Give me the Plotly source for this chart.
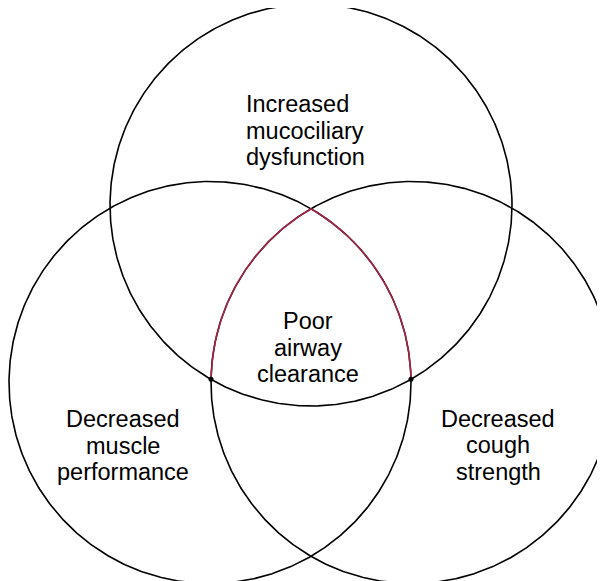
import numpy as np
import plotly.graph_objects as go

# Circle geometry (pixel space of the picture, y grows downward)
circle_names = ["top", "left", "right"]
circle_cx = [311.0, 210.0, 412.0]
circle_cy = [205.0, 382.5, 382.5]
circle_r = [201.0, 201.0, 201.0]

# Labels (one entry per line)
top_lines = ["Increased", "mucociliary", "dysfunction"]
top_baselines = [111.7, 138.0, 164.5]
center_lines = ["Poor", "airway", "clearance"]
center_baselines = [328.3, 355.0, 381.7]
left_lines = ["Decreased", "muscle", "performance"]
left_baselines = [426.7, 453.3, 479.5]
right_lines = ["Decreased", "cough", "strength"]
right_baselines = [426.2, 452.8, 479.0]

W, H = 605, 581
OFF = 8  # page body margin
BLACK = "#000000"
RED = "#a6264a"
FONT = "Liberation Sans, Arial, sans-serif"
FS = 23.5


def intersect(c1, c2):
    x1, y1, r1 = c1
    x2, y2, r2 = c2
    d = np.hypot(x2 - x1, y2 - y1)
    a = (r1 ** 2 - r2 ** 2 + d ** 2) / (2 * d)
    h = np.sqrt(max(r1 ** 2 - a ** 2, 0))
    xm = x1 + a * (x2 - x1) / d
    ym = y1 + a * (y2 - y1) / d
    p1 = (xm + h * (y2 - y1) / d, ym - h * (x2 - x1) / d)
    p2 = (xm - h * (y2 - y1) / d, ym + h * (x2 - x1) / d)
    return p1, p2


circles = list(zip(circle_cx, circle_cy, circle_r))
top_c, left_c, right_c = circles

fig = go.Figure()

# full circles
for (cx, cy, r) in circles:
    t = np.linspace(0, 2 * np.pi, 721)
    fig.add_trace(go.Scatter(x=cx + r * np.cos(t), y=cy + r * np.sin(t), mode="lines",
                             line=dict(color=BLACK, width=1.6), hoverinfo="skip",
                             showlegend=False))

# top intersection of the two lower circles
pa, pb = intersect(left_c, right_c)
top_pt = pa if pa[1] < pb[1] else pb
# top circle crossing each lower circle (lower crossing points)
q1, q2 = intersect(top_c, right_c)
dot_right_c = q1 if q1[1] > q2[1] else q2
q1, q2 = intersect(top_c, left_c)
dot_left_c = q1 if q1[1] > q2[1] else q2


def arc(c, p_from, p_to, n=200):
    cx, cy, r = c
    a1 = np.arctan2(p_from[1] - cy, p_from[0] - cx)
    a2 = np.arctan2(p_to[1] - cy, p_to[0] - cx)
    d = (a2 - a1 + np.pi) % (2 * np.pi) - np.pi
    t = np.linspace(a1, a1 + d, n)
    return cx + r * np.cos(t), cy + r * np.sin(t)


xs, ys = arc(right_c, top_pt, dot_right_c)
fig.add_trace(go.Scatter(x=xs, y=ys, mode="lines", line=dict(color=RED, width=1.6),
                         hoverinfo="skip", showlegend=False))
xs, ys = arc(left_c, top_pt, dot_left_c)
fig.add_trace(go.Scatter(x=xs, y=ys, mode="lines", line=dict(color=RED, width=1.6),
                         hoverinfo="skip", showlegend=False))

# dots
fig.add_trace(go.Scatter(x=[dot_right_c[0], dot_left_c[0]], y=[dot_right_c[1], dot_left_c[1]],
                         mode="markers", marker=dict(color=BLACK, size=5),
                         hoverinfo="skip", showlegend=False))

ann = []


def add_lines(lines, baselines, x, anchor):
    for txt, b in zip(lines, baselines):
        ann.append(dict(x=x, y=b - 7.5, xref="x", yref="y", text=txt, showarrow=False,
                        xanchor=anchor, yanchor="middle",
                        font=dict(family=FONT, size=FS, color=BLACK)))


add_lines(top_lines, top_baselines, 243.5, "left")
add_lines(center_lines, center_baselines, 308, "center")
add_lines(left_lines, left_baselines, 123, "center")
add_lines(right_lines, right_baselines, 498, "center")

fig.update_layout(
    width=W, height=H,
    margin=dict(l=0, r=0, t=0, b=0),
    paper_bgcolor="white", plot_bgcolor="white",
    xaxis=dict(range=[OFF, W + OFF], visible=False, fixedrange=True),
    yaxis=dict(range=[H + OFF, OFF], visible=False, fixedrange=True),
    annotations=ann,
    showlegend=False,
)

fig.write_html("out.html", config=dict(displayModeBar=False))
